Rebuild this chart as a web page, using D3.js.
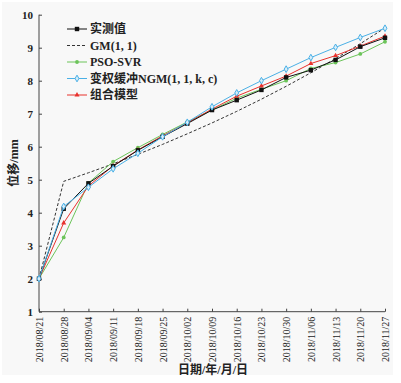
<!DOCTYPE html>
<html><head><meta charset="utf-8">
<script src="https://cdn.jsdelivr.net/npm/d3@7"></script>
<style>body{margin:0;background:#fff}svg{display:block}</style>
</head><body><svg id="c" width="401" height="383"></svg>
<script>
const dates = ["2018/08/21","2018/08/28","2018/09/04","2018/09/11","2018/09/18","2018/09/25","2018/10/02","2018/10/09","2018/10/16","2018/10/23","2018/10/30","2018/11/06","2018/11/13","2018/11/20","2018/11/27"];
const measured = [2.0,4.12,4.89,5.41,5.89,6.30,6.70,7.11,7.41,7.72,8.10,8.32,8.63,9.03,9.30];
const gm11     = [2.0,4.95,5.21,5.48,5.77,6.07,6.39,6.72,7.07,7.44,7.83,8.24,8.67,9.12,9.60];
const psoSvr   = [2.0,3.25,4.90,5.55,5.97,6.37,6.75,7.11,7.47,7.74,8.00,8.37,8.55,8.81,9.18];
const ngm      = [2.0,4.19,4.77,5.33,5.80,6.30,6.74,7.21,7.63,8.00,8.35,8.70,9.01,9.31,9.59];
const combined = [2.0,3.69,4.81,5.42,5.90,6.33,6.72,7.14,7.53,7.84,8.14,8.52,8.76,9.05,9.35];
const yTicks = [1,2,3,4,5,6,7,8,9,10];
const legendNames = ["实测值","GM(1, 1)","PSO-SVR","变权缓冲NGM(1, 1, k, c)","组合模型"];

const svg = d3.select("#c");
svg.append("rect").attr("x",2).attr("y",2).attr("width",391).attr("height",373).attr("fill","#f8f8f8");
const x = d3.scalePoint().domain(dates).range([39,385]);
const y = d3.scaleLinear().domain([1,10]).range([311.7,14.7]);
const serif = "'Liberation Serif','Times New Roman',serif";
const cjk = "'Liberation Serif','Noto Sans CJK SC',serif";

const ya = svg.append("g").attr("transform","translate(39,0)")
  .call(d3.axisLeft(y).tickValues(yTicks).tickSize(-3).tickPadding(6).tickFormat(d3.format("d")));
const xa = svg.append("g").attr("transform","translate(0,311.7)")
  .call(d3.axisBottom(x).tickSize(-3).tickPadding(5));
[ya,xa].forEach(g=>{
  g.selectAll(".domain").attr("stroke","#444").attr("stroke-width",1);
  g.selectAll(".tick line").attr("stroke","#444");
  g.selectAll("text").attr("fill","#222").style("font-family",serif);
});
ya.selectAll("text").style("font-size","11px").style("font-weight","bold");
xa.selectAll("text").style("font-size","10px")
  .attr("transform","rotate(-90)").attr("text-anchor","end")
  .attr("dx","-5").attr("dy","0.35em").attr("x",0).attr("y",0);
ya.select(".domain").attr("d","M0,311.7V14.7");
xa.select(".domain").attr("d","M39,0H385");

svg.append("text").attr("transform","translate(18,163) rotate(-90)").attr("text-anchor","middle")
  .style("font-family",cjk).style("font-size","12px").style("font-weight","bold").attr("fill","#222").text("位移/mm");
svg.append("text").attr("x",213).attr("y",374).attr("text-anchor","middle")
  .style("font-family",cjk).style("font-size","12px").style("font-weight","bold").attr("fill","#222").text("日期/年/月/日");

const series = [
  {name:legendNames[0], v:measured, color:"#111", dash:null, marker:"square"},
  {name:legendNames[1], v:gm11, color:"#333", dash:"3,2", marker:null},
  {name:legendNames[2], v:psoSvr, color:"#6cc45a", dash:null, marker:"circle"},
  {name:legendNames[3], v:ngm, color:"#4ab0e6", dash:null, marker:"diamond"},
  {name:legendNames[4], v:combined, color:"#e8322d", dash:null, marker:"triangle"}
];
const drawOrder = [1,2,4,0,3];
const line = d3.line().x((d,i)=>x(dates[i])).y(d=>y(d));
function marker(g, type, color, cx, cy){
  if(type==="square") g.append("rect").attr("x",cx-2.2).attr("y",cy-2.2).attr("width",4.4).attr("height",4.4).attr("fill",color);
  else if(type==="circle") g.append("circle").attr("cx",cx).attr("cy",cy).attr("r",1.9).attr("fill",color);
  else if(type==="diamond") g.append("path").attr("d",d3.symbol(d3.symbolDiamond,13)()).attr("transform",`translate(${cx},${cy})`).attr("fill","#d8eefa").attr("stroke",color).attr("stroke-width",1);
  else if(type==="triangle") g.append("path").attr("d",d3.symbol(d3.symbolTriangle,11)()).attr("transform",`translate(${cx},${cy})`).attr("fill",color);
}
drawOrder.forEach(k=>{
  const s = series[k];
  const g = svg.append("g");
  g.append("path").datum(s.v).attr("d",line).attr("fill","none").attr("stroke",s.color)
    .attr("stroke-width",1).attr("stroke-dasharray",s.dash);
  if(s.marker) s.v.forEach((d,i)=>marker(g,s.marker,s.color,x(dates[i]),y(d)));
});

const ly = [29,45.5,62,78.5,95];
series.forEach((s,i)=>{
  const g = svg.append("g");
  g.append("line").attr("x1",67).attr("x2",87).attr("y1",ly[i]).attr("y2",ly[i]).attr("stroke",s.color).attr("stroke-width",1).attr("stroke-dasharray",s.dash);
  if(s.marker) marker(g,s.marker,s.color,77,ly[i]);
  g.append("text").attr("x",90).attr("y",ly[i]).attr("dy","0.36em").style("font-family",cjk)
    .style("font-size","12px").style("font-weight","bold").attr("fill","#222").text(s.name);
});
</script></body></html>
